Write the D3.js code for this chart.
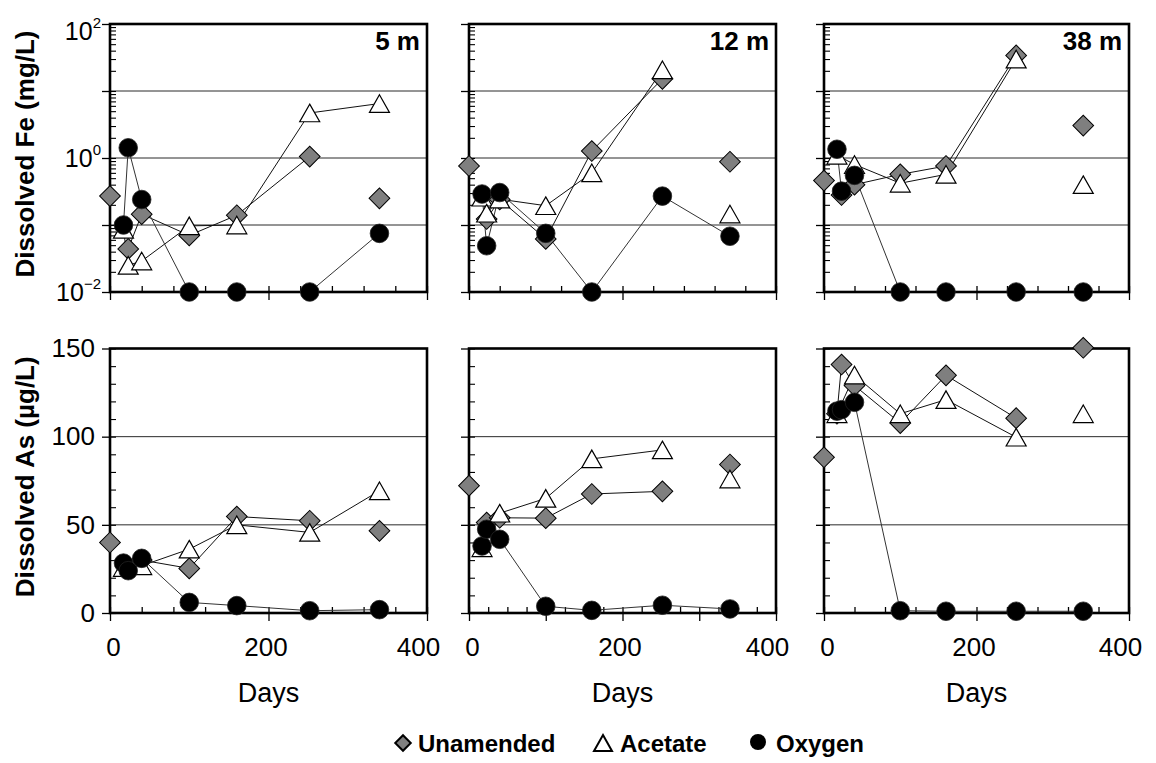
<!DOCTYPE html>
<html><head><meta charset="utf-8">
<script src="https://cdn.jsdelivr.net/npm/d3@7"></script>
<style>
html,body{margin:0;padding:0;background:#fff;}
svg{display:block;font-family:"Liberation Sans",Arial,Helvetica,sans-serif;}
</style></head><body>
<svg id="chart" width="1156" height="763"></svg>
<script>
// ---------------- data ----------------
const days = [0, 17, 23, 40, 100, 160, 252, 340];
const depths = ["5 m", "12 m", "38 m"];
const seriesNames = ["Unamended", "Acetate", "Oxygen"];

// Dissolved Fe (mg/L), one row per depth, aligned with days
const feUnamended = [
  [0.27, null, 0.044, 0.145, 0.07, 0.14, 1.05, 0.25],
  [0.76, null, 0.123, 0.24, 0.062, 1.27, 15.2, 0.88],
  [0.46, null, 0.28, 0.4, 0.57, 0.76, 34, 3.05]
];
const feAcetate = [
  [null, 0.086, 0.025, 0.029, 0.097, 0.1, 4.7, 6.5],
  [null, 0.26, 0.15, 0.243, 0.194, 0.6, 20.7, 0.146],
  [null, 1.1, null, 0.8, 0.42, 0.57, 30, 0.4]
];
const feOxygen = [
  [null, 0.1, 1.42, 0.24, 0.01, 0.01, 0.01, 0.075],
  [null, 0.29, 0.049, 0.305, 0.075, 0.01, 0.27, 0.068],
  [null, 1.35, 0.32, 0.55, 0.01, 0.01, 0.01, 0.01]
];
// Dissolved As (µg/L)
const asUnamended = [
  [40, null, null, 30, 25.3, 54.7, 52.3, 46.6],
  [72.2, null, 51.3, 54, 53.8, 67.5, 69, 84.2],
  [88.3, 113, 140.9, 129, 107.7, 134.8, 110.5, 150.4]
];
const asAcetate = [
  [null, 25.8, null, 26.8, 36.2, 50, 45.7, 69.3],
  [null, 37, null, 56.6, 65, 87.4, 92.5, 76],
  [null, 113, null, 134.9, 113, 121, 99.7, 113]
];
const asOxygen = [
  [null, 28.3, 24, 31, 6, 4.2, 1.3, 1.9],
  [null, 38, 47.5, 41.8, 3.8, 1.5, 4.4, 2.3],
  [null, 114.5, 115.3, 119.5, 1.3, 1, 1, 1]
];
// index range [first,last] of the days joined by a line, per depth
const feUnamendedJoin = [[2, 6], [2, 6], [2, 6]];
const feAcetateJoin = [[1, 7], [1, 6], [1, 6]];
const feOxygenJoin = [[1, 7], [1, 7], [1, 7]];
const asUnamendedJoin = [[3, 6], [2, 6], [1, 6]];
const asAcetateJoin = [[1, 7], [1, 6], [1, 6]];
const asOxygenJoin = [[1, 7], [1, 7], [1, 7]];

// ticks
const dayLabelTicks = [0, 200, 400];
const feMajorTicks = [0.01, 0.1, 1, 10, 100];
const feLabelTicks = [0.01, 1, 100];
const feExponents = ["\u22122", "0", "2"];
const feGrid = [0.1, 1, 10];
const asMajorTicks = [0, 50, 100, 150];
const asGrid = [50, 100];

// ---------------- layout ----------------
const svg = d3.select("#chart");
const colX = [[110, 427], [469, 776], [824, 1129]];
const rowY = { fe: [24, 292], as: [348.5, 613] };

const feMinorTicks = [];
[-2, -1, 0, 1].forEach(k => { for (let m = 2; m <= 9; m++) feMinorTicks.push(m * Math.pow(10, k)); });

const diamondSym = d3.symbol().type(d3.symbolSquare).size(215);
const triangleType = {
  draw(ctx, size) {
    const w = 10, h = 8.8;
    ctx.moveTo(0, -h); ctx.lineTo(w, h); ctx.lineTo(-w, h); ctx.closePath();
  }
};
const triangleSym = d3.symbol().type(triangleType).size(1);
const circleSym = d3.symbol().type(d3.symbolCircle).size(Math.PI * 9.3 * 9.3);

function styleAxis(sel, w) {
  sel.select(".domain").remove();
  sel.selectAll(".tick line").attr("stroke", "#000").attr("stroke-width", w || 1.3);
}

function panel(row, ci) {
  const [x0, x1] = colX[ci];
  const [y0, y1] = rowY[row];
  const x = d3.scaleLinear().domain([0, 400]).range([x0, x1]);
  const y = row === "fe"
    ? d3.scaleLog().domain([0.01, 100]).range([y1, y0])
    : d3.scaleLinear().domain([0, 150]).range([y1, y0]);
  const g = svg.append("g");

  // grid lines
  g.selectAll("line.grid").data(row === "fe" ? feGrid : asGrid).join("line")
    .attr("class", "grid")
    .attr("x1", x0).attr("x2", x1)
    .attr("y1", d => y(d)).attr("y2", d => y(d))
    .attr("stroke", "#2a2a2a").attr("stroke-width", 1);

  // x axis
  const step = (row === "as" && ci === 1) ? 25 : 40;
  const xMinor = d3.range(0, 401, step);
  const xMajor = (row === "as" && ci === 1) ? [0, 100, 200, 300, 400] : dayLabelTicks;
  g.append("g").attr("transform", `translate(0,${y1})`)
    .call(d3.axisBottom(x).tickValues(xMajor).tickSize(8).tickFormat(""))
    .call(styleAxis);
  g.append("g").attr("transform", `translate(0,${y1})`)
    .call(d3.axisBottom(x).tickValues(xMinor).tickSize(-6).tickFormat(""))
    .call(styleAxis);
  if (row === "as") {
    const ax = g.append("g").attr("transform", `translate(0,${y1})`)
      .call(d3.axisBottom(x).tickValues(dayLabelTicks).tickSize(0).tickPadding(25).tickFormat(d3.format("d")))
      .call(styleAxis);
    ax.selectAll("text").attr("font-size", 26).attr("fill", "#000")
      .attr("font-family", '"Liberation Sans", Arial, sans-serif')
      .attr("dx", d => 3 - d * 0.03);
    g.append("text").attr("x", (x0 + x1) / 2).attr("y", 702)
      .attr("text-anchor", "middle").attr("font-size", 27).text("Days");
  }

  // y axis
  const yMajor = row === "fe" ? feMajorTicks : asMajorTicks;
  const yMinor = row === "fe" ? feMajorTicks.concat(feMinorTicks) : d3.range(0, 151, 10);
  g.append("g").attr("transform", `translate(${x0},0)`)
    .call(d3.axisLeft(y).tickValues(yMajor).tickSize(8).tickFormat(""))
    .call(styleAxis);
  g.append("g").attr("transform", `translate(${x0},0)`)
    .call(d3.axisLeft(y).tickValues(yMinor).tickSize(-6).tickFormat(""))
    .call(s => styleAxis(s, 1.1));
  if (ci === 0) {
    if (row === "fe") {
      const ay = g.append("g").attr("transform", `translate(${x0},0)`)
        .call(d3.axisLeft(y).tickValues(feLabelTicks).tickSize(0).tickPadding(9).tickFormat(""))
        .call(styleAxis);
      ay.selectAll("text").each(function (d) {
        const t = d3.select(this).attr("font-size", 25).attr("fill", "#000")
          .attr("font-family", '"Liberation Sans", Arial, sans-serif')
          .attr("y", d === 100 ? 7 : 0);
        t.text(null);
        t.append("tspan").text("10");
        t.append("tspan").attr("font-size", 15).attr("dy", "-0.75em")
          .text(feExponents[feLabelTicks.indexOf(d)]);
      });
    } else {
      const ay = g.append("g").attr("transform", `translate(${x0},0)`)
        .call(d3.axisLeft(y).tickValues(asMajorTicks).tickSize(0).tickPadding(15).tickFormat(d3.format("d")))
        .call(styleAxis);
      ay.selectAll("text").attr("font-size", 26).attr("fill", "#000")
        .attr("font-family", '"Liberation Sans", Arial, sans-serif');
    }
    const cy = (y0 + y1) / 2 - 4;
    g.append("text")
      .attr("transform", `translate(34,${cy}) rotate(-90)`)
      .attr("text-anchor", "middle").attr("font-size", 26).attr("font-weight", "bold")
      .text(row === "fe" ? "Dissolved Fe (mg/L)" : "Dissolved As (\u00b5g/L)");
  }

  // depth label
  if (row === "fe") {
    g.append("text").attr("x", x1 - 7).attr("y", 50).attr("text-anchor", "end")
      .attr("font-size", 26).attr("font-weight", "bold").text(depths[ci]);
  }

  // data
  const sets = row === "fe"
    ? [[feUnamended, feUnamendedJoin], [feAcetate, feAcetateJoin], [feOxygen, feOxygenJoin]]
    : [[asUnamended, asUnamendedJoin], [asAcetate, asAcetateJoin], [asOxygen, asOxygenJoin]];
  const pts = sets.map(([vals]) => days.map((d, i) => ({ d, v: vals[ci][i], i })).filter(p => p.v != null));
  const line = d3.line().x(p => x(p.d)).y(p => y(p.v));
  sets.forEach(([vals, join], si) => {
    const [a, b] = join[ci];
    const seg = pts[si].filter(p => p.i >= a && p.i <= b);
    g.append("path").attr("d", line(seg)).attr("fill", "none")
      .attr("stroke", si === 2 ? "#333" : "#111").attr("stroke-width", 1);
  });

  // frame
  g.append("rect").attr("x", x0).attr("y", y0).attr("width", x1 - x0).attr("height", y1 - y0)
    .attr("fill", "none").attr("stroke", "#000").attr("stroke-width", 2.6);

  // markers
  g.selectAll("path.dia").data(pts[0]).join("path").attr("class", "dia")
    .attr("d", diamondSym)
    .attr("transform", p => `translate(${x(p.d)},${y(p.v)}) rotate(45)`)
    .attr("fill", "#7f7f7f").attr("stroke", "#000").attr("stroke-width", 1);
  g.selectAll("path.tri").data(pts[1]).join("path").attr("class", "tri")
    .attr("d", triangleSym)
    .attr("transform", p => `translate(${x(p.d)},${y(p.v)})`)
    .attr("fill", "#fff").attr("stroke", "#000").attr("stroke-width", 1.2);
  g.selectAll("path.cir").data(pts[2]).join("path").attr("class", "cir")
    .attr("d", circleSym)
    .attr("transform", p => `translate(${x(p.d)},${y(p.v)})`)
    .attr("fill", "#000").attr("stroke", "#222").attr("stroke-width", 0.8);
}

["fe", "as"].forEach(r => [0, 1, 2].forEach(c => panel(r, c)));

// legend
const leg = svg.append("g");
const legX = [403, 603, 758];
const legTextX = [418, 620, 776];
const legY = 743;
leg.append("path").attr("d", d3.symbol().type(d3.symbolSquare).size(120)())
  .attr("transform", `translate(${legX[0]},${legY}) rotate(45)`)
  .attr("fill", "#7f7f7f").attr("stroke", "#000").attr("stroke-width", 2);
leg.append("path").attr("d", "M0,-8L9,8L-9,8Z")
  .attr("transform", `translate(${legX[1]},${legY})`)
  .attr("fill", "#fff").attr("stroke", "#000").attr("stroke-width", 2);
leg.append("path").attr("d", d3.symbol().type(d3.symbolCircle).size(Math.PI * 8 * 8)())
  .attr("transform", `translate(${legX[2]},${legY - 1})`).attr("fill", "#000");
seriesNames.forEach((n, i) => {
  leg.append("text").attr("x", legTextX[i]).attr("y", legY + 9)
    .attr("font-size", 24).attr("font-weight", "bold").text(n);
});
</script>
</body></html>
